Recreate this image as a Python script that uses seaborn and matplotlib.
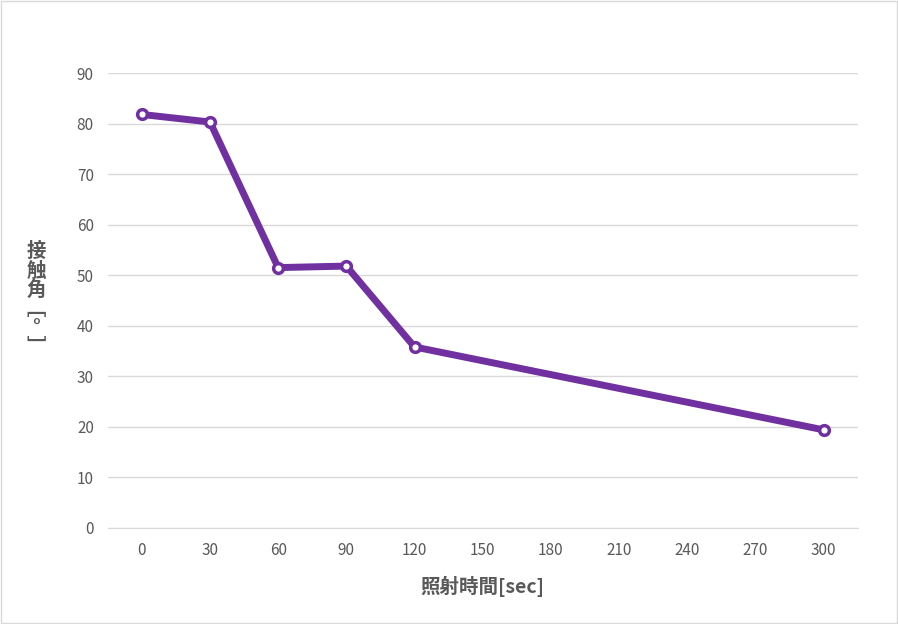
import matplotlib
matplotlib.use("Agg")
import matplotlib.pyplot as plt
import seaborn as sns
import pandas as pd

times = [0, 30, 60, 90, 120, 300]
angles = [81.8, 80.3, 51.5, 51.8, 35.8, 19.4]
xticks = [0, 30, 60, 90, 120, 150, 180, 210, 240, 270, 300]
yticks = [0, 10, 20, 30, 40, 50, 60, 70, 80, 90]

sns.set_style("white")
plt.rcParams['font.family'] = ['Noto Sans CJK JP', 'DejaVu Sans']

df = pd.DataFrame({"t": times, "a": angles})
fig = plt.figure(figsize=(8.98, 6.24), dpi=100)
ax = fig.add_axes([0.12, 0.154, 0.835, 0.729])
sns.lineplot(data=df, x="t", y="a", ax=ax, color="#7030A0", linewidth=5,
             marker="o", markersize=7, markerfacecolor="white",
             markeredgecolor="#7030A0", markeredgewidth=2.5, zorder=3)
ax.set_xlim(-15, 315)
ax.set_ylim(0, 90)
ax.set_xticks(xticks)
ax.set_yticks(yticks)
ax.grid(axis="y", color="#d9d9d9", linewidth=1)
for s in ["top", "right", "left"]:
    ax.spines[s].set_visible(False)
ax.spines["bottom"].set_color("#d9d9d9")
ax.tick_params(axis="both", length=0, labelsize=11, labelcolor="#595959", pad=10)
ax.set_xlabel("照射時間[sec]", fontsize=14, color="#595959", labelpad=12, fontweight="bold")
ax.set_ylabel("")
fig.text(0.04, 0.52, "接\n触\n角\n﹇\n°\n﹈", fontsize=14, color="#595959",
         ha="center", va="center", linespacing=1.0, fontweight="bold")
fig.patches.append(plt.Rectangle((0.001, 0.001), 0.998, 0.998, transform=fig.transFigure,
                                 fill=False, edgecolor="#d9d9d9", linewidth=1))
fig.savefig("out.png", dpi=100)
